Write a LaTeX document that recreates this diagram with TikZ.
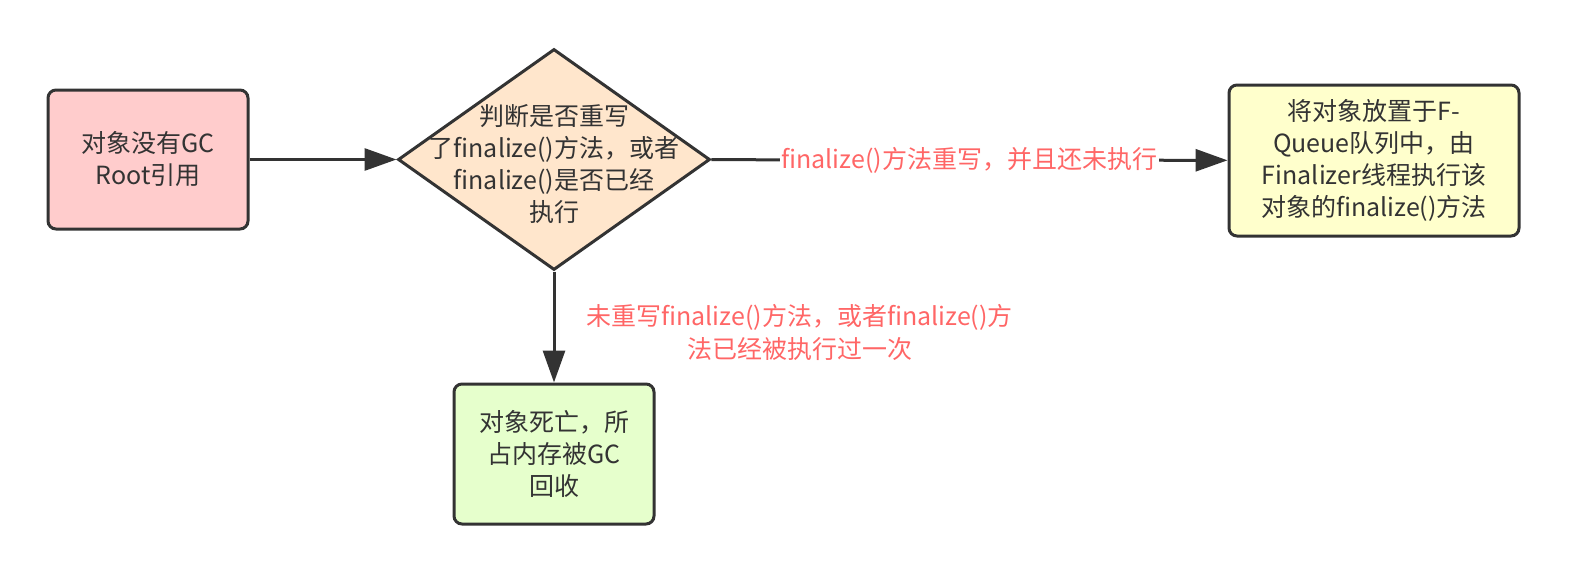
\documentclass[tikz,border=0pt]{standalone}
\usepackage{fontspec}
\setmainfont{Noto Sans CJK SC}
\usetikzlibrary{shapes.geometric,arrows.meta}
\definecolor{linegray}{HTML}{333333}
\definecolor{notered}{HTML}{FF6666}
\definecolor{pinkfill}{HTML}{FFCCCC}
\definecolor{orangefill}{HTML}{FFE6CC}
\definecolor{yellowfill}{HTML}{FFFFCC}
\definecolor{greenfill}{HTML}{E6FFCC}
\tikzset{
    box/.style={rectangle,rounded corners=8pt,draw=linegray,line width=3pt,text=linegray,
        align=center,inner sep=0pt,font=\fontsize{25pt}{32pt}\selectfont},
    decision/.style={diamond,draw=linegray,line width=3pt,fill=orangefill,
        minimum width=312pt,minimum height=221pt,inner sep=0pt},
    edge/.style={-{Triangle[length=32pt,width=22pt]},draw=linegray,line width=3pt},
    note/.style={text=notered,align=center,inner sep=2pt,font=\fontsize{25pt}{33pt}\selectfont}
}

\begin{document}
\begin{tikzpicture}[x=1pt,y=-1pt]
\useasboundingbox (0,0) rectangle (1576,576);
\node[box, fill=pinkfill, minimum width=200pt, minimum height=139pt] (1) at (148,159.5) {对象没有GC\\Root引用};
\node[decision, label={[text=linegray,align=center,yshift=-5pt,font=\fontsize{25pt}{32pt}\selectfont]center:{判断是否重写\\了finalize()方法，或者\\finalize()是否已经\\执行}}] (2) at (554,159.5) {};
\node[box, fill=yellowfill, minimum width=290pt, minimum height=151pt] (3) at (1374,160.5) {将对象放置于F-\\Queue队列中，由\\Finalizer线程执行该\\对象的finalize()方法};
\node[box, fill=greenfill, minimum width=200pt, minimum height=140pt] (4) at (554,454) {对象死亡，所\\占内存被GC\\回收};

\draw[edge] (1) -- (2);
\draw[edge] (2) -- (3) node[note, midway, fill=white] {finalize()方法重写，并且还未执行};
\draw[edge] (2) -- (4) node[note, midway, anchor=west, xshift=29pt, yshift=-5pt] {未重写finalize()方法，或者finalize()方\\法已经被执行过一次};

\end{tikzpicture}
\end{document}
